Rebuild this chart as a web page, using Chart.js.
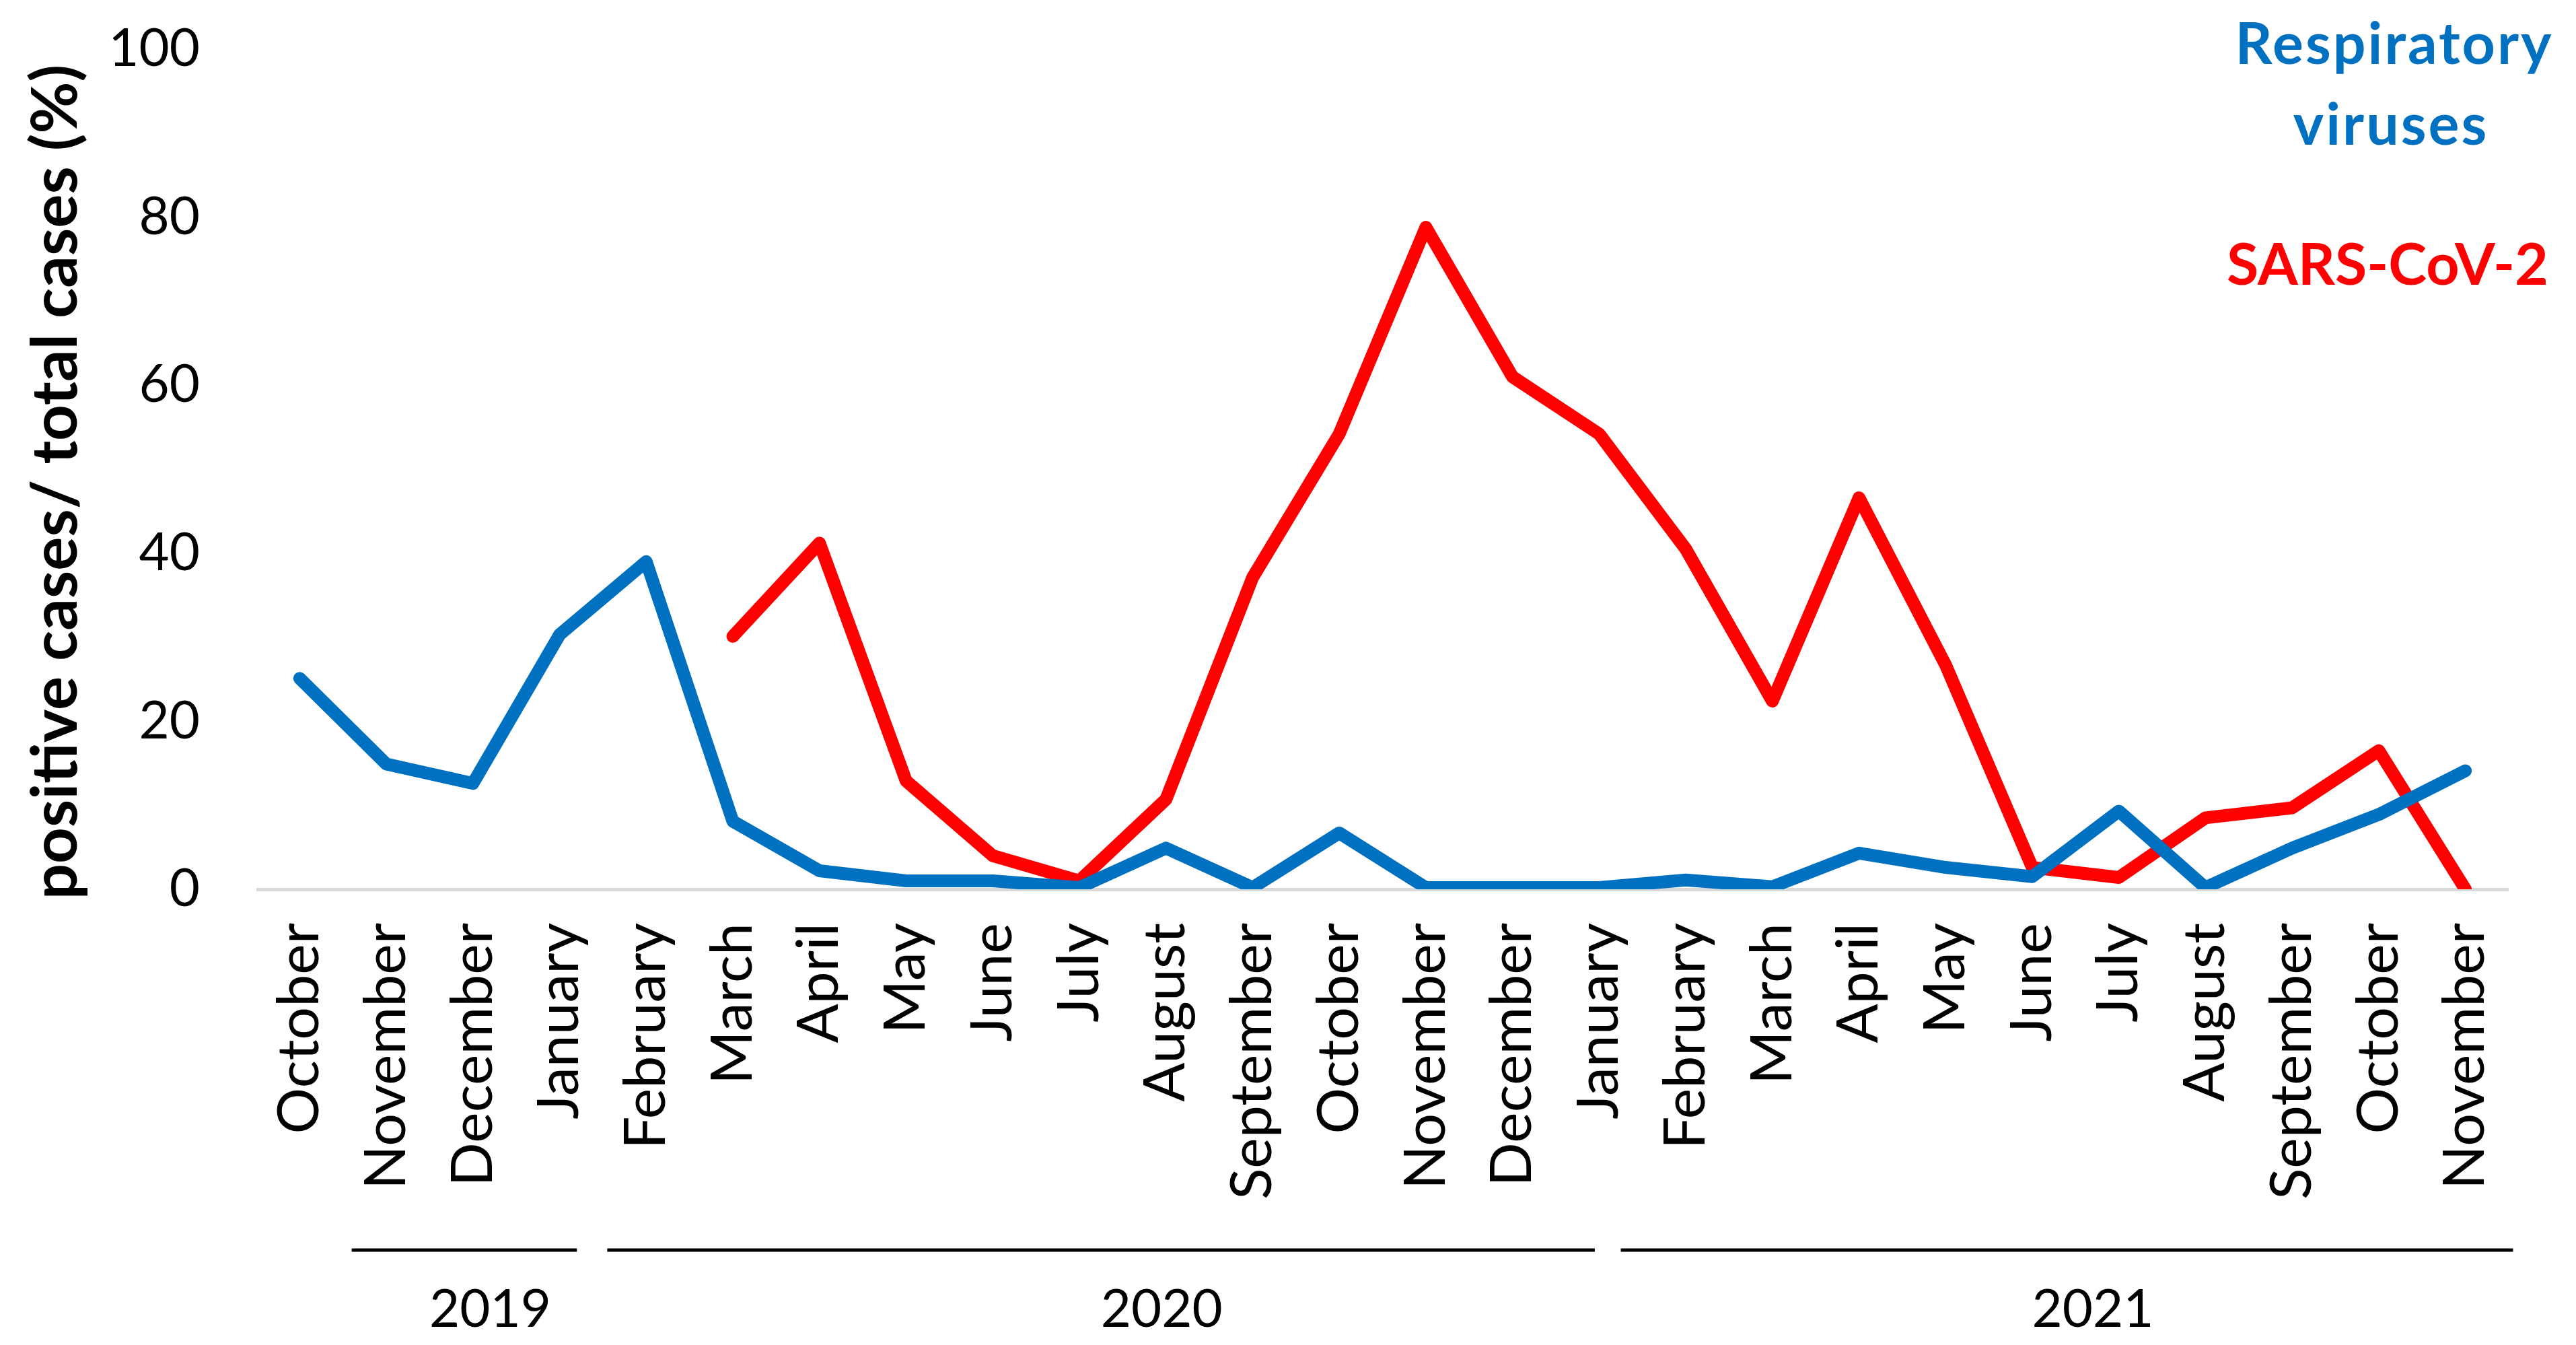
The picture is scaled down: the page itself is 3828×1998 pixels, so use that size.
<!DOCTYPE html>
<html>
<head>
<meta charset="utf-8">
<script src="https://cdn.jsdelivr.net/npm/chart.js@4/dist/chart.umd.min.js"></script>
<style>
  html, body { margin: 0; padding: 0; background: #fff; }
  #wrap { width: 3828px; height: 1998px; position: relative; }
</style>
</head>
<body>
<div id="wrap"><canvas id="grafico"></canvas></div>
<script>
// --- dados ---
const meses = ['October', 'November', 'December', 'January', 'February', 'March', 'April', 'May', 'June', 'July',
  'August', 'September', 'October', 'November', 'December', 'January', 'February', 'March', 'April', 'May',
  'June', 'July', 'August', 'September', 'October', 'November'];
const respiratorios = [25.1, 14.9, 12.6, 30.3, 39.0, 8.1, 2.2, 1.0, 1.0, 0.2, 4.9, 0.2, 6.7, 0.2, 0.2, 0.2,
  1.1, 0.3, 4.3, 2.6, 1.5, 9.3, 0.2, 4.9, 8.9, 14.1];
const sarsCov2 = [null, null, null, null, null, 30.1, 41.2, 12.9, 4.0, 1.0, 10.7, 37.1, 54.2, 78.8, 61.0, 54.2,
  40.5, 22.4, 46.6, 26.7, 2.6, 1.4, 8.5, 9.7, 16.5, 0];
const yTicks = [0, 20, 40, 60, 80, 100];
const anos = ['2019', '2020', '2021'];
// faixa de cada ano, em índice de categoria (como desenhado no original)
const faixaAnos = [[0.6, 3.2], [3.55, 14.95], [15.25, 25.55]];
const labelAnos = [2.2, 9.95, 20.7];

const AZUL = '#0070C0';
const VERMELHO = '#FF0000';
const FONTE = 'Lato, "Open Sans", sans-serif';

// título do eixo y, anos abaixo do eixo e legenda em texto
const extras = {
  id: 'extras',
  afterDraw(chart) {
    const ctx = chart.ctx;
    const x = chart.scales.x;
    ctx.save();
    // título do eixo
    ctx.save();
    ctx.translate(84, 716);
    ctx.rotate(-Math.PI / 2);
    ctx.fillStyle = '#000';
    ctx.font = 'bold 94px ' + FONTE;
    ctx.textAlign = 'center';
    ctx.textBaseline = 'middle';
    ctx.fillText('positive cases/ total cases (%)', 0, 0);
    ctx.restore();
    // linhas dos anos
    ctx.strokeStyle = '#000';
    ctx.lineWidth = 5;
    faixaAnos.forEach(f => {
      ctx.beginPath();
      ctx.moveTo(x.getPixelForValue(f[0]), 1857);
      ctx.lineTo(x.getPixelForValue(f[1]), 1857);
      ctx.stroke();
    });
    ctx.fillStyle = '#000';
    ctx.font = '78px ' + FONTE;
    ctx.textAlign = 'center';
    ctx.textBaseline = 'alphabetic';
    anos.forEach((a, i) => ctx.fillText(a, x.getPixelForValue(labelAnos[i]), 1971));
    // legenda
    ctx.font = 'bold 86px ' + FONTE;
    ctx.fillStyle = AZUL;
    ctx.letterSpacing = '3px';
    ctx.fillText('Respiratory', 3558, 95);
    ctx.fillText('viruses', 3553, 215);
    ctx.letterSpacing = '0px';
    ctx.fillStyle = VERMELHO;
    ctx.fillText('SARS-CoV-2', 3548, 423);
    ctx.restore();
  }
};

const ctx = document.getElementById('grafico').getContext('2d');
const chart = new Chart(ctx, {
  type: 'line',
  data: {
    labels: meses,
    datasets: [
      { label: 'Respiratory viruses', data: respiratorios, borderColor: AZUL, borderWidth: 19 },
      { label: 'SARS-CoV-2', data: sarsCov2, borderColor: VERMELHO, borderWidth: 19 }
    ]
  },
  options: {
    responsive: true,
    maintainAspectRatio: false,
    devicePixelRatio: 1,
    animation: false,
    layout: { padding: { top: 73, right: 100, left: 20, bottom: 0 } },
    elements: {
      point: { radius: 0, hoverRadius: 0 },
      line: { tension: 0, borderCapStyle: 'round', borderJoinStyle: 'round' }
    },
    plugins: { legend: { display: false }, tooltip: { enabled: false } },
    scales: {
      x: {
        offset: true,
        grid: { display: false, drawTicks: false },
        border: { display: false },
        ticks: {
          autoSkip: false, minRotation: 90, maxRotation: 90, padding: 50,
          color: '#000', font: { family: FONTE, size: 86 }
        },
        afterFit(s) { s.height = 677; }
      },
      y: {
        min: 0, max: 100,
        afterBuildTicks(s) { s.ticks = yTicks.map(v => ({ value: v })); },
        grid: {
          drawTicks: false,
          color: c => c.tick && c.tick.value === 0 ? '#D9D9D9' : 'rgba(0,0,0,0)',
          lineWidth: 5
        },
        border: { display: false },
        ticks: { padding: 84, color: '#000', font: { family: FONTE, size: 78 } },
        afterFit(s) {
          s.width = 361;
          // sem folga extra em cima/embaixo por causa do padding dos ticks
          s.paddingTop = 0;
          s.paddingBottom = 0;
        }
      }
    }
  },
  plugins: [extras]
});
</script>
</body>
</html>
